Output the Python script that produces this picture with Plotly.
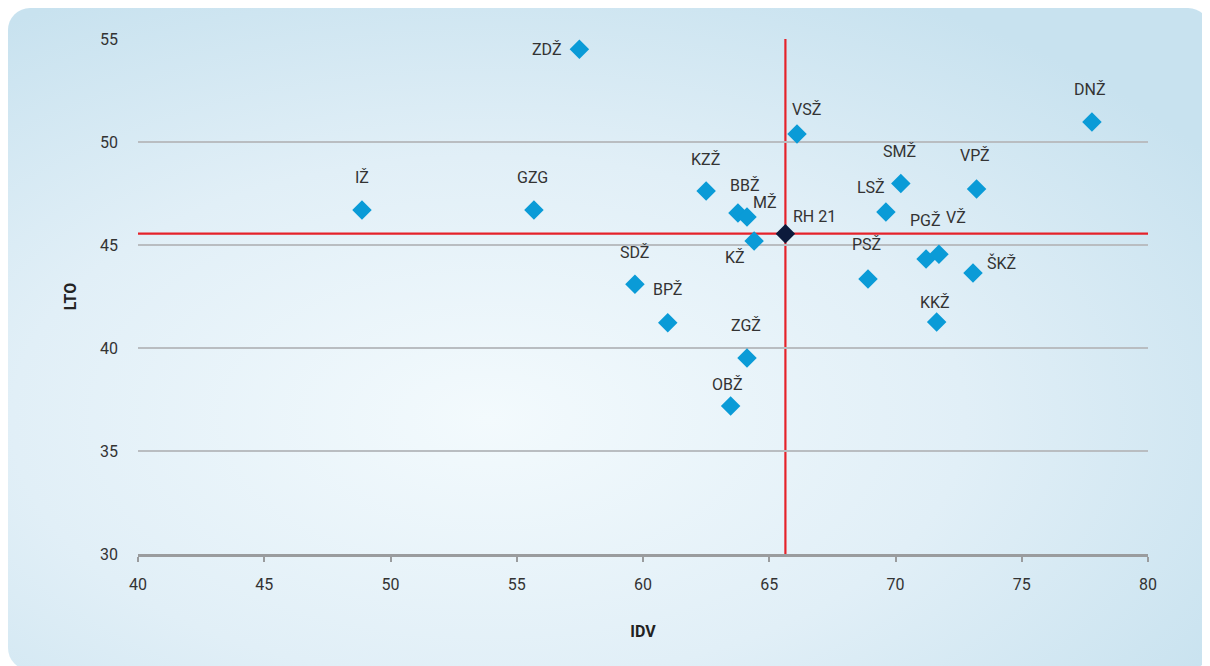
import base64
import plotly.graph_objects as go

# ---- data ----
labels = ["ZDŽ", "DNŽ", "VSŽ", "IŽ", "GZG", "KZŽ", "BBŽ", "MŽ", "KŽ", "SMŽ", "LSŽ",
          "VPŽ", "PGŽ", "VŽ", "PSŽ", "ŠKŽ", "KKŽ", "SDŽ", "BPŽ", "ZGŽ", "OBŽ"]
idv = [57.48, 77.78, 66.10, 48.87, 55.68, 62.50, 63.76, 64.12, 64.40, 70.21, 69.62,
       73.21, 71.21, 71.72, 68.91, 73.07, 71.63, 59.68, 60.98, 64.12, 63.47]
lto = [54.50, 50.97, 50.39, 46.70, 46.70, 47.62, 46.55, 46.36, 45.19, 47.99, 46.60,
       47.72, 44.32, 44.55, 43.35, 43.64, 41.26, 43.10, 41.22, 39.51, 37.19]

avg_label = "RH 21"
avg_idv = 65.64
avg_lto = 45.55

x_ticks = [40, 45, 50, 55, 60, 65, 70, 75, 80]
y_ticks = [30, 35, 40, 45, 50, 55]

# label offsets in pixels (styling)
label_offsets = {
    "ZDŽ": (-32, 0), "DNŽ": (-2, 33), "VSŽ": (9, 24), "IŽ": (0, 32), "GZG": (-1, 32),
    "KZŽ": (-1, 32), "BBŽ": (7, 28), "MŽ": (18, 14), "KŽ": (-19, -16), "SMŽ": (-1, 32),
    "LSŽ": (-15, 25), "VPŽ": (-2, 33), "PGŽ": (-1, 39), "VŽ": (17, 37), "PSŽ": (-1, 34),
    "ŠKŽ": (28, 10), "KKŽ": (-2, 20), "SDŽ": (0, 32), "BPŽ": (0, 33), "ZGŽ": (-1, 33),
    "OBŽ": (-3, 21), "RH 21": (29, 17),
}

FONT = "Roboto"
TXT = "#333333"
BLUE = "#0a9bd7"
NAVY = "#0c1a3c"
RED = "#e5222a"

# the page places the figure 8px in from the top-left corner
W, H = 1202, 658
L, R, T, B = 130, 62, 31, 112
pw, ph = W - L - R, H - T - B

fig = go.Figure()

fig.add_trace(go.Scatter(
    x=idv, y=lto, mode="markers",
    marker=dict(symbol="diamond", size=15, color=BLUE, line=dict(width=0)),
    hoverinfo="text", text=labels, showlegend=False, cliponaxis=False))

fig.add_trace(go.Scatter(
    x=[avg_idv], y=[avg_lto], mode="markers",
    marker=dict(symbol="diamond", size=15, color=NAVY, line=dict(width=0)),
    hoverinfo="text", text=[avg_label], showlegend=False, cliponaxis=False))

# reference lines through the average
fig.add_shape(type="line", xref="x", yref="y", x0=avg_idv, x1=avg_idv, y0=y_ticks[0], y1=y_ticks[-1],
              line=dict(color=RED, width=2.2), layer="below")
fig.add_shape(type="line", xref="x", yref="y", x0=x_ticks[0], x1=x_ticks[-1], y0=avg_lto, y1=avg_lto,
              line=dict(color=RED, width=2.2), layer="below")

annotations = []
for lab, xv, yv in list(zip(labels, idv, lto)) + [(avg_label, avg_idv, avg_lto)]:
    dx, dy = label_offsets[lab]
    annotations.append(dict(x=xv, y=yv, xref="x", yref="y", text=lab, showarrow=False,
                            xshift=dx, yshift=dy, font=dict(family=FONT, size=16, color=TXT)))

# background: rounded panel with radial gradient
svg = ('<svg xmlns="http://www.w3.org/2000/svg" width="1202" height="662" viewBox="0 0 1202 662">'
       '<defs><radialGradient id="g" cx="0.40" cy="0.62" r="0.72">'
       '<stop offset="0" stop-color="#f3fafd"/><stop offset="0.55" stop-color="#e1eff7"/>'
       '<stop offset="1" stop-color="#c8e2ef"/></radialGradient></defs>'
       '<rect x="0" y="0" width="1202" height="662" rx="22" ry="22" fill="url(#g)"/></svg>')
src = "data:image/svg+xml;base64," + base64.b64encode(svg.encode()).decode()
bg_left, bg_top, bg_w, bg_h = 0, 0, 1202, 662

fig.add_layout_image(dict(
    source=src, xref="paper", yref="paper",
    x=(bg_left - L) / pw, y=(H - B - bg_top) / ph,
    sizex=bg_w / pw, sizey=bg_h / ph,
    xanchor="left", yanchor="top", sizing="stretch", layer="below"))

fig.update_layout(
    width=W, height=H,
    margin=dict(l=L, r=R, t=T, b=B, pad=0),
    paper_bgcolor="white", plot_bgcolor="rgba(0,0,0,0)",
    font=dict(family=FONT, size=16, color=TXT),
    annotations=annotations,
    xaxis=dict(range=[x_ticks[0], x_ticks[-1]], tickvals=x_ticks, showgrid=False, zeroline=False,
               showline=True, linecolor="#9a9c9e", linewidth=2.5,
               ticks="outside", ticklen=5, tickwidth=2, tickcolor="#9a9c9e",
               ticklabelstandoff=9, tickfont=dict(family=FONT, size=16, color=TXT),
               title=dict(text="<b>IDV</b>", standoff=33, font=dict(family=FONT, size=16, color="#222222"))),
    yaxis=dict(range=[y_ticks[0], y_ticks[-1]], tickvals=y_ticks, showgrid=True,
               gridcolor="#b9bdc1", gridwidth=1.5, zeroline=False, showline=False, ticks="",
               ticklabelstandoff=19, tickfont=dict(family=FONT, size=16, color=TXT),
               title=dict(text="<b>LTO</b>", standoff=19, font=dict(family=FONT, size=16, color="#222222"))),
)

fig.write_html("out.html")
